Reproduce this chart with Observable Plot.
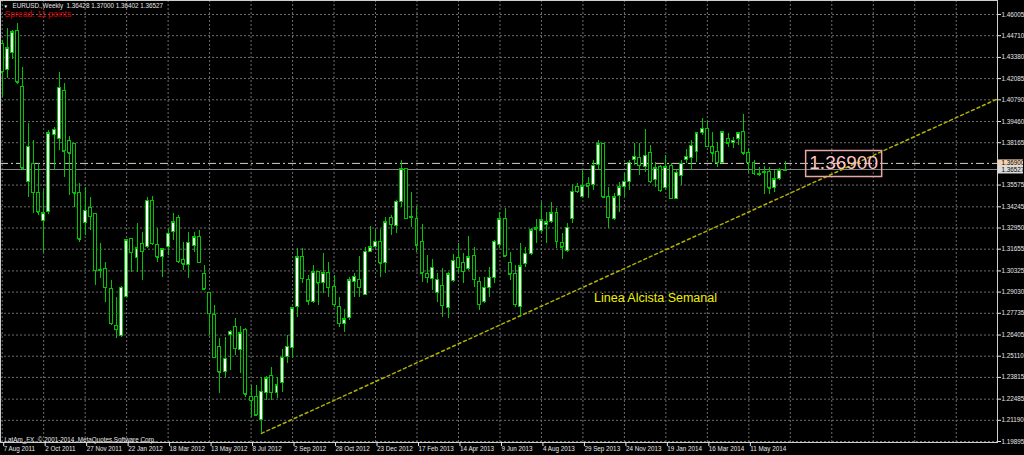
<!DOCTYPE html>
<html><head><meta charset="utf-8">
<script src="https://cdn.jsdelivr.net/npm/d3@7"></script>
<script src="https://cdn.jsdelivr.net/npm/@observablehq/plot@0.6"></script>
<style>html,body{margin:0;padding:0;background:#000;overflow:hidden}</style>
</head><body><div id="chart"></div>
<script>
// ---------- data (weekly EURUSD candles, first week starts 7 Aug 2011) ----------
const firstWeek = "2011-08-07";
const opens = [1.4423,1.4264,1.4368,1.4497,1.4160,1.3579,1.3689,1.3512,1.3335,1.3390,
1.3861,1.3842,1.4130,1.3824,1.3806,1.3512,1.3323,1.3420,1.3378,1.3041,
1.3047,1.2925,1.2693,1.2632,1.2876,1.3225,1.3109,1.3200,1.3176,1.3463,
1.3188,1.3115,1.3176,1.3268,1.3359,1.3102,1.3066,1.3182,1.3237,1.3011,
1.2895,1.2766,1.2570,1.2412,1.2638,1.2687,1.2546,1.2674,1.2259,1.2259,
1.2124,1.2289,1.2393,1.2289,1.2350,1.2509,1.2564,1.2809,1.3115,1.2980,
1.2840,1.3023,1.2956,1.3017,1.2937,1.2809,1.2705,1.2742,1.2962,1.2980,
1.2888,1.3151,1.3176,1.3212,1.3078,1.3359,1.3310,1.3457,1.3653,1.3365,
1.3347,1.3212,1.3011,1.2986,1.2895,1.2943,1.2803,1.2968,1.3109,1.3078,
1.3047,1.3121,1.2962,1.2840,1.2931,1.2992,1.3188,1.3347,1.3078,1.3011,
1.2809,1.3072,1.3133,1.3292,1.3274,1.3316,1.3329,1.3384,1.3206,1.3157,
1.3347,1.3543,1.3482,1.3561,1.3555,1.3683,1.3806,1.3482,1.3353,1.3488,
1.3543,1.3579,1.3708,1.3726,1.3665,1.3751,1.3586,1.3665,1.3537,1.3677,
1.3475,1.3616,1.3708,1.3726,1.3757,1.3873,1.3903,1.3793,1.3757,1.3695,
1.3842,1.3812,1.3842,1.3879,1.3751,1.3695,1.3622,1.3634,1.3640,1.3537,
1.3592,1.36428];
const highs = [1.4442,1.4515,1.4503,1.4546,1.4276,1.3934,1.3830,1.3689,1.3524,1.3891,
1.3910,1.4246,1.4179,1.3855,1.3812,1.3567,1.3543,1.3482,1.3384,1.3200,
1.3084,1.2974,1.2870,1.2937,1.3225,1.3231,1.3323,1.3268,1.3482,1.3488,
1.3292,1.3170,1.3286,1.3384,1.3371,1.3206,1.3268,1.3268,1.3280,1.3066,
1.2901,1.2821,1.2619,1.2625,1.2668,1.2742,1.2693,1.2681,1.2332,1.2332,
1.2381,1.2387,1.2442,1.2381,1.2552,1.2638,1.2809,1.3170,1.3170,1.3005,
1.3066,1.3029,1.3139,1.3084,1.3005,1.2870,1.2797,1.2992,1.3017,1.3121,
1.3176,1.3304,1.3280,1.3286,1.3359,1.3371,1.3463,1.3708,1.3659,1.3512,
1.3427,1.3316,1.3127,1.3102,1.3017,1.3047,1.3023,1.3133,1.3200,1.3139,
1.3243,1.3176,1.2992,1.2992,1.3053,1.3219,1.3390,1.3414,1.3145,1.3066,
1.3200,1.3176,1.3292,1.3347,1.3451,1.3390,1.3451,1.3414,1.3261,1.3323,
1.3561,1.3567,1.3647,1.3604,1.3708,1.3830,1.3812,1.3543,1.3506,1.3573,
1.3628,1.3708,1.3812,1.3812,1.3897,1.3799,1.3695,1.3677,1.3738,1.3689,
1.3647,1.3708,1.3775,1.3830,1.3879,1.3965,1.3946,1.3879,1.3818,1.3885,
1.3873,1.3848,1.3879,1.3989,1.3781,1.3708,1.3665,1.3671,1.3665,1.3647,
1.3659,1.37000];
const lows = [1.4093,1.4209,1.4325,1.4172,1.3647,1.3482,1.3384,1.3371,1.3145,1.3378,
1.3647,1.3769,1.3604,1.3494,1.3420,1.3206,1.3249,1.3280,1.2943,1.2986,
1.2840,1.2699,1.2619,1.2625,1.2870,1.3023,1.3023,1.2974,1.3170,1.3188,
1.3084,1.2992,1.3127,1.3219,1.3078,1.3035,1.2986,1.3145,1.3078,1.2913,
1.2638,1.2497,1.2283,1.2381,1.2424,1.2515,1.2405,1.2259,1.2136,1.2142,
1.2039,1.2240,1.2240,1.2253,1.2289,1.2467,1.2497,1.2748,1.2956,1.2821,
1.2833,1.2821,1.2895,1.2870,1.2809,1.2687,1.2656,1.2729,1.2870,1.2870,
1.2882,1.3145,1.3170,1.2992,1.3017,1.3249,1.3261,1.3420,1.3347,1.3298,
1.3145,1.2962,1.2956,1.2913,1.2840,1.2748,1.2742,1.2962,1.3017,1.2956,
1.3035,1.2931,1.2791,1.2833,1.2870,1.2956,1.3170,1.3115,1.2974,1.2809,
1.2748,1.3053,1.3127,1.3200,1.3261,1.3200,1.3323,1.3170,1.3102,1.3145,
1.3323,1.3506,1.3475,1.3475,1.3524,1.3647,1.3475,1.3292,1.3341,1.3390,
1.3482,1.3524,1.3677,1.3616,1.3634,1.3567,1.3543,1.3512,1.3524,1.3469,
1.3469,1.3555,1.3689,1.3647,1.3695,1.3861,1.3787,1.3695,1.3665,1.3689,
1.3787,1.3781,1.3799,1.3738,1.3628,1.3616,1.3610,1.3500,1.3500,1.3512,
1.3586,1.36402];
const closes = [1.4246,1.4393,1.4491,1.4185,1.3659,1.3793,1.3512,1.3390,1.3384,1.3873,
1.3897,1.4154,1.3763,1.3751,1.3506,1.3225,1.3402,1.3365,1.3035,1.3035,
1.2931,1.2711,1.2674,1.2931,1.3219,1.3145,1.3170,1.3151,1.3463,1.3200,
1.3115,1.3164,1.3261,1.3329,1.3090,1.3072,1.3206,1.3237,1.3084,1.2919,
1.2772,1.2503,1.2412,1.2497,1.2662,1.2558,1.2650,1.2277,1.2240,1.2149,
1.2295,1.2375,1.2289,1.2332,1.2503,1.2570,1.2803,1.3115,1.2986,1.2846,
1.3023,1.2956,1.3017,1.2931,1.2827,1.2711,1.2736,1.2974,1.2998,1.2931,
1.3151,1.3176,1.3212,1.3078,1.3329,1.3316,1.3457,1.3653,1.3353,1.3359,
1.3188,1.3017,1.2992,1.3053,1.2980,1.2821,1.3011,1.3096,1.3053,1.3029,
1.3115,1.2980,1.2827,1.2931,1.2992,1.3212,1.3347,1.3121,1.3011,1.2827,
1.3060,1.3139,1.3280,1.3286,1.3341,1.3329,1.3384,1.3212,1.3176,1.3298,
1.3518,1.3518,1.3549,1.3549,1.3677,1.3806,1.3482,1.3359,1.3482,1.3543,
1.3579,1.3695,1.3732,1.3677,1.3738,1.3579,1.3659,1.3524,1.3665,1.3475,
1.3634,1.3689,1.3732,1.3799,1.3873,1.3903,1.3793,1.3751,1.3695,1.3879,
1.3812,1.3830,1.3873,1.3751,1.3695,1.3628,1.3628,1.3640,1.3537,1.3592,
1.3647,1.36527];

const xTickLabels = ["7 Aug 2011","2 Oct 2011","27 Nov 2011","22 Jan 2012","18 Mar 2012",
"13 May 2012","8 Jul 2012","2 Sep 2012","28 Oct 2012","23 Dec 2012","17 Feb 2013",
"14 Apr 2013","9 Jun 2013","4 Aug 2013","29 Sep 2013","24 Nov 2013","19 Jan 2014",
"16 Mar 2014","11 May 2014"];
const yTickValues = [1.46005,1.44710,1.43380,1.42085,1.40790,1.39460,1.38165,1.35575,
1.34245,1.32950,1.31655,1.30325,1.29030,1.27735,1.26405,1.25110,1.23815,1.22485,1.21190,1.19895];

const symbolName = "EURUSD.,Weekly";
const spreadText = "Spread: 11 points";
const copyrightText = "LatAm_FX, \u00a9 2001-2014, MetaQuotes Software Corp.";
const levelPrice = 1.369;
const trendDates = ["2012-07-22", "2015-04-12"];
const trendPrices = [1.2039, 1.4085];
const trendLabel = "Linea Alcista Semanal";
const trendLabelDate = "2014-01-05";
const trendLabelPrice = 1.2870;
const levelLabelDate = "2014-09-16";

// ---------- build ----------
const parseISO = d3.utcParse("%Y-%m-%d");
const start = parseISO(firstWeek);
const DAY = 864e5;
const candles = opens.map((o, i) => ({
  date: d3.utcWeek.offset(start, i), open: o, high: highs[i], low: lows[i], close: closes[i]
}));
const tickDates = xTickLabels.map(d3.utcParse("%d %b %Y"));
const gridDates = d3.range(0, 185, 8).map(k => d3.utcWeek.offset(start, k));
const trend = trendDates.map((d, i) => ({date: parseISO(d), price: trendPrices[i]}));
const last = candles[candles.length - 1];
const f5 = d => d.toFixed(5);
const title = `${symbolName}\u00a0\u00a0${f5(last.open)} ${f5(last.high)} ${f5(last.low)} ${f5(last.close)}`;

const green = "#00c400";
const rectSymbol = (w, h) => ({draw(ctx) { ctx.rect(-w / 2, -h / 2, w, h); }});
const half = 2.0 * DAY;
const small = 6.3;

const chart = Plot.plot({
  width: 1024, height: 455,
  marginLeft: 0, marginTop: 0, marginRight: 27, marginBottom: 13,
  style: {background: "#000", color: "#e6e6e6", fontFamily: "'Liberation Sans', Arial, sans-serif", overflow: "visible"},
  x: {type: "utc", domain: [new Date(+start - 0.328 * 7 * DAY), new Date(+start + 191.96 * 7 * DAY)], axis: null},
  y: {domain: [1.19834, 1.46861], axis: null},
  marks: [
    Plot.gridY(yTickValues, {stroke: "#6e6e6e", strokeOpacity: 1, strokeDasharray: "2,2"}),
    Plot.gridX(gridDates, {stroke: "#6e6e6e", strokeOpacity: 1, strokeDasharray: "2,2"}),
    Plot.ruleY([levelPrice], {stroke: "#d8d0c4", strokeDasharray: "8,3,2,3"}),
    Plot.ruleY([last.close], {stroke: "#858585"}),
    Plot.line(trend, {x: "date", y: "price", stroke: "#b0b000", strokeDasharray: "3,3"}),
    Plot.ruleX(candles, {x: "date", y1: "low", y2: "high", stroke: green, shapeRendering: "crispEdges"}),
    Plot.rect(candles, {
      x1: d => new Date(+d.date - half), x2: d => new Date(+d.date + half),
      y1: "open", y2: "close",
      fill: d => d.close >= d.open ? "#ffffff" : "#000000",
      stroke: green, shapeRendering: "crispEdges"
    }),
    Plot.ruleY(candles, {x1: d => new Date(+d.date - half), x2: d => new Date(+d.date + half), y: "close", stroke: green, shapeRendering: "crispEdges"}),
    Plot.text([{date: parseISO(trendLabelDate), price: trendLabelPrice}], {x: "date", y: "price", text: () => trendLabel, fill: "#f0f000", fontSize: 12.5}),
    Plot.dot([{date: parseISO(levelLabelDate), price: levelPrice}], {x: "date", y: "price", symbol: rectSymbol(76, 26), fill: "none", stroke: "#e8a8a8", r: 5}),
    Plot.text([{date: parseISO(levelLabelDate), price: levelPrice}], {x: "date", y: "price", text: d => f5(d.price), fill: "#ffc4c4", fontSize: 19}),
    Plot.frame({stroke: "#cfcfcf"}),
    Plot.axisX(tickDates, {anchor: "bottom", tickFormat: d3.utcFormat("%-d %b %Y"), tickSize: 4, tickPadding: 0, textAnchor: "start", dx: 1.5, fontSize: small, label: null}),
    Plot.axisY(yTickValues, {anchor: "right", tickFormat: f5, tickSize: 3, tickPadding: 1, fontSize: small, label: null}),
    Plot.dot([levelPrice], {y: d => d, frameAnchor: "right", dx: 13, symbol: rectSymbol(25, 8), fill: "#f2d2b2", r: 5}),
    Plot.text([levelPrice], {y: d => d, frameAnchor: "right", dx: 4, textAnchor: "start", text: f5, fill: "#000", fontSize: small}),
    Plot.dot([last.close], {y: d => d, frameAnchor: "right", dx: 13, symbol: rectSymbol(25, 8), fill: "#dcdcdc", r: 5}),
    Plot.text([last.close], {y: d => d, frameAnchor: "right", dx: 4, textAnchor: "start", text: f5, fill: "#000", fontSize: small}),
    Plot.text(["\u25BC"], {frameAnchor: "top-left", dx: 3, dy: 4, fontSize: 4.5, fill: "#ffffff"}),
    Plot.text([title], {frameAnchor: "top-left", dx: 12, dy: 3, fontSize: small, fill: "#e6e6e6"}),
    Plot.text([spreadText], {frameAnchor: "top-left", dx: 4, dy: 10, fontSize: 8.6, fill: "#dc0000"}),
    Plot.text([copyrightText], {frameAnchor: "bottom-left", dx: 4, dy: -1, fontSize: small, fill: "#e6e6e6"})
  ]
});
document.getElementById("chart").appendChild(chart);
</script>
</body></html>
